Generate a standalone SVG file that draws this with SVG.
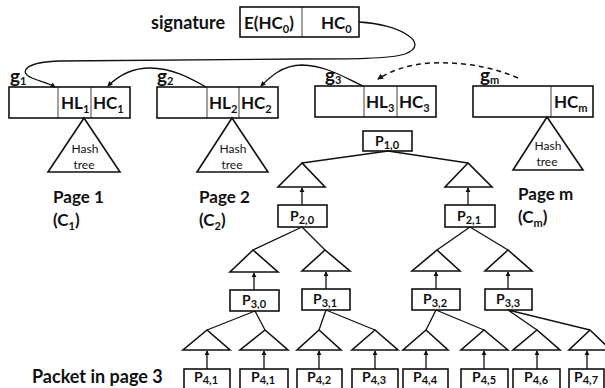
<svg xmlns="http://www.w3.org/2000/svg" width="605" height="388" viewBox="0 0 605 388">
<style>
.b{fill:#fff;stroke:#111;stroke-width:1.6}
.d{stroke:#111;stroke-width:0.8}
.t{fill:none;stroke:#111;stroke-width:1.6;stroke-linejoin:miter}
.c{fill:none;stroke:#111;stroke-width:1.3}
.dash{fill:none;stroke:#111;stroke-width:1.5;stroke-dasharray:5,4}
.l{font-family:Lato,"Open Sans","Liberation Sans",sans-serif;font-weight:bold;fill:#111}
.big{font-size:17px}
.g{font-size:19px}
.pg{font-size:17px}
.sm{font-size:11px}
.p{font-size:14px}
.h{font-family:Lato,"Open Sans","Liberation Sans",sans-serif;font-size:12px;fill:#111}
</style>
<defs>
<marker id="ah" viewBox="0 0 6 6" refX="5" refY="3" markerWidth="4" markerHeight="4" orient="auto">
<path d="M0,0 L6,3 L0,6 z" fill="#111"/>
</marker>
</defs>

<g id="signature">
<text class="l" font-size="18" x="151" y="29">signature</text>
<rect class="b" x="240" y="7" width="119" height="30"/>
<line class="d" x1="302" y1="7" x2="302" y2="37"/>
<text class="l big" x="244" y="29">E(HC<tspan class="sm" dy="4">0</tspan><tspan dy="-4">)</tspan></text>
<text class="l big" x="321" y="29">HC<tspan class="sm" dy="4">0</tspan></text>
</g>

<g id="page1">
<rect class="b" x="9" y="87" width="121" height="31"/>
<line class="d" x1="58" y1="87" x2="58" y2="118"/>
<line class="d" x1="91" y1="87" x2="91" y2="118"/>
<text class="l big" x="61" y="109">HL<tspan class="sm" dy="4">1</tspan></text>
<text class="l big" x="93" y="109">HC<tspan class="sm" dy="4">1</tspan></text>
<text class="l g" x="10" y="83">g<tspan class="sm" dy="2">1</tspan></text>
<path class="t" d="M84,118 L48,172 L120,172 Z"/>
<text class="h" x="85" y="153" text-anchor="middle">Hash</text>
<text class="h" x="84" y="169" text-anchor="middle">tree</text>
<text class="l pg" x="53" y="203">Page 1</text>
<text class="l pg" x="53" y="226">(C<tspan class="sm" dy="4">1</tspan><tspan dy="-4">)</tspan></text>
</g>

<g id="page2">
<rect class="b" x="157" y="87" width="121" height="31"/>
<line class="d" x1="207" y1="87" x2="207" y2="118"/>
<line class="d" x1="239" y1="87" x2="239" y2="118"/>
<text class="l big" x="209" y="109">HL<tspan class="sm" dy="4">2</tspan></text>
<text class="l big" x="241" y="109">HC<tspan class="sm" dy="4">2</tspan></text>
<text class="l g" x="157" y="83">g<tspan class="sm" dy="2">2</tspan></text>
<path class="t" d="M232,118 L197,172 L268,172 Z"/>
<text class="h" x="233" y="153" text-anchor="middle">Hash</text>
<text class="h" x="232" y="169" text-anchor="middle">tree</text>
<text class="l pg" x="199" y="203">Page 2</text>
<text class="l pg" x="199" y="226">(C<tspan class="sm" dy="4">2</tspan><tspan dy="-4">)</tspan></text>
</g>

<g id="page3">
<rect class="b" x="315" y="86" width="121" height="31"/>
<line class="d" x1="364" y1="86" x2="364" y2="117"/>
<line class="d" x1="397" y1="86" x2="397" y2="117"/>
<text class="l big" x="366" y="108">HL<tspan class="sm" dy="4">3</tspan></text>
<text class="l big" x="399" y="108">HC<tspan class="sm" dy="4">3</tspan></text>
<text class="l g" x="325" y="82">g<tspan class="sm" dy="2">3</tspan></text>
</g>

<g id="pagem">
<rect class="b" x="473" y="86" width="120" height="31"/>
<line class="d" x1="551" y1="86" x2="551" y2="117"/>
<text class="l big" x="554" y="108">HC<tspan class="sm" dy="4">m</tspan></text>
<text class="l g" x="480" y="82">g<tspan class="sm" dy="2">m</tspan></text>
<path class="t" d="M547,117 L513,170 L583,170 Z"/>
<text class="h" x="548" y="150" text-anchor="middle">Hash</text>
<text class="h" x="547" y="166" text-anchor="middle">tree</text>
<text class="l pg" x="518" y="200">Page m</text>
<text class="l pg" x="518" y="223">(C<tspan class="sm" dy="4">m</tspan><tspan dy="-4">)</tspan></text>
</g>

<g id="p10"><rect class="b" x="363" y="131" width="49" height="20"/><text class="l p" x="375" y="146">P<tspan class="sm" dy="3">1,0</tspan></text></g>
<g id="p20"><rect class="b" x="278" y="205" width="49" height="22"/><text class="l p" x="290" y="221">P<tspan class="sm" dy="3">2,0</tspan></text></g>
<g id="p21"><rect class="b" x="445" y="205" width="50" height="22"/><text class="l p" x="457" y="221">P<tspan class="sm" dy="3">2,1</tspan></text></g>
<g id="p30"><rect class="b" x="230" y="290" width="49" height="21"/><text class="l p" x="242" y="305">P<tspan class="sm" dy="3">3,0</tspan></text></g>
<g id="p31"><rect class="b" x="302" y="289" width="48" height="21"/><text class="l p" x="313" y="304">P<tspan class="sm" dy="3">3,1</tspan></text></g>
<g id="p32"><rect class="b" x="412" y="289" width="48" height="21"/><text class="l p" x="423" y="304">P<tspan class="sm" dy="3">3,2</tspan></text></g>
<g id="p33"><rect class="b" x="485" y="289" width="47" height="21"/><text class="l p" x="496" y="304">P<tspan class="sm" dy="3">3,3</tspan></text></g>

<g id="p41a"><rect class="b" x="184" y="369" width="46" height="20"/><text class="l p" x="194" y="382">P<tspan class="sm" dy="2">4,1</tspan></text></g>
<g id="p41b"><rect class="b" x="240" y="369" width="48" height="20"/><text class="l p" x="251" y="382">P<tspan class="sm" dy="2">4,1</tspan></text></g>
<g id="p42"><rect class="b" x="297" y="369" width="45" height="20"/><text class="l p" x="307" y="382">P<tspan class="sm" dy="2">4,2</tspan></text></g>
<g id="p43"><rect class="b" x="352" y="369" width="46" height="20"/><text class="l p" x="362" y="382">P<tspan class="sm" dy="2">4,3</tspan></text></g>
<g id="p44"><rect class="b" x="403" y="369" width="45" height="20"/><text class="l p" x="413" y="382">P<tspan class="sm" dy="2">4,4</tspan></text></g>
<g id="p45"><rect class="b" x="461" y="369" width="47" height="20"/><text class="l p" x="472" y="382">P<tspan class="sm" dy="2">4,5</tspan></text></g>
<g id="p46"><rect class="b" x="513" y="369" width="47" height="20"/><text class="l p" x="524" y="382">P<tspan class="sm" dy="2">4,6</tspan></text></g>
<g id="p47"><rect class="b" x="569" y="369" width="35" height="20"/><text class="l p" x="574" y="382">P<tspan class="sm" dy="2">4,7</tspan></text></g>

<g id="packet-label"><text class="l" font-size="18" x="32" y="383">Packet in page 3</text></g>

<g id="triangles">
<path class="t" d="M302,163 L278,187 L325,187 Z"/>
<path class="t" d="M468,163 L445,187 L492,187 Z"/>
<path class="t" d="M253,250 L230,272 L278,272 Z"/>
<path class="t" d="M325,250 L302,271 L350,271 Z"/>
<path class="t" d="M437,250 L412,271 L460,271 Z"/>
<path class="t" d="M508,250 L485,271 L532,271 Z"/>
<path class="t" d="M207,330 L183,350 L230,350 Z"/>
<path class="t" d="M265,330 L240,350 L288,350 Z"/>
<path class="t" d="M319,330 L297,350 L341,350 Z"/>
<path class="t" d="M375,330 L352,350 L398,350 Z"/>
<path class="t" d="M426,330 L403,350 L448,350 Z"/>
<path class="t" d="M484,330 L461,350 L508,350 Z"/>
<path class="t" d="M537,330 L513,350 L560,350 Z"/>
<path class="t" d="M590,330 L569,350 L611,350 Z"/>
</g>

<g id="connectors">
<path class="c" d="M359,22 C400,24 432,44 405,54 C390,59 350,59 300,59 L60,61 C25,62 18,72 32,78 C42,82 50,84 55,87" marker-end="url(#ah)"/>
<path class="c" d="M206,87 C190,78 172,68 150,68 C130,68 116,78 108,86" marker-end="url(#ah)"/>
<path class="c" d="M363,86 C345,78 328,66 302,65 C282,65 269,78 261,86" marker-end="url(#ah)"/>
<path class="dash" d="M518,78 C490,66 462,62 432,63 C410,64 392,70 378,79" marker-end="url(#ah)"/>
<path class="c" d="M388,151 L302,163 M388,151 L468,163"/>
<path class="c" d="M302,227 L253,250 M302,227 L325,250"/>
<path class="c" d="M470,227 L437,250 M470,227 L508,250"/>
<path class="c" d="M255,311 L207,330 M255,311 L265,330"/>
<path class="c" d="M326,310 L319,330 M326,310 L375,330"/>
<path class="c" d="M436,310 L426,330 M436,310 L484,330"/>
<path class="c" d="M508,310 L537,330 M508,310 L590,330"/>
<path class="c" d="M302,205 L302,188" marker-end="url(#ah)"/>
<path class="c" d="M468,205 L468,188" marker-end="url(#ah)"/>
<path class="c" d="M254,290 L254,273" marker-end="url(#ah)"/>
<path class="c" d="M326,289 L326,272" marker-end="url(#ah)"/>
<path class="c" d="M436,289 L436,272" marker-end="url(#ah)"/>
<path class="c" d="M508,289 L508,272" marker-end="url(#ah)"/>
<path class="c" d="M207,369 L207,351" marker-end="url(#ah)"/>
<path class="c" d="M264,369 L264,351" marker-end="url(#ah)"/>
<path class="c" d="M319,369 L319,351" marker-end="url(#ah)"/>
<path class="c" d="M375,369 L375,351" marker-end="url(#ah)"/>
<path class="c" d="M426,369 L426,351" marker-end="url(#ah)"/>
<path class="c" d="M484,369 L484,351" marker-end="url(#ah)"/>
<path class="c" d="M537,369 L537,351" marker-end="url(#ah)"/>
<path class="c" d="M587,369 L587,351" marker-end="url(#ah)"/>
</g>
</svg>
